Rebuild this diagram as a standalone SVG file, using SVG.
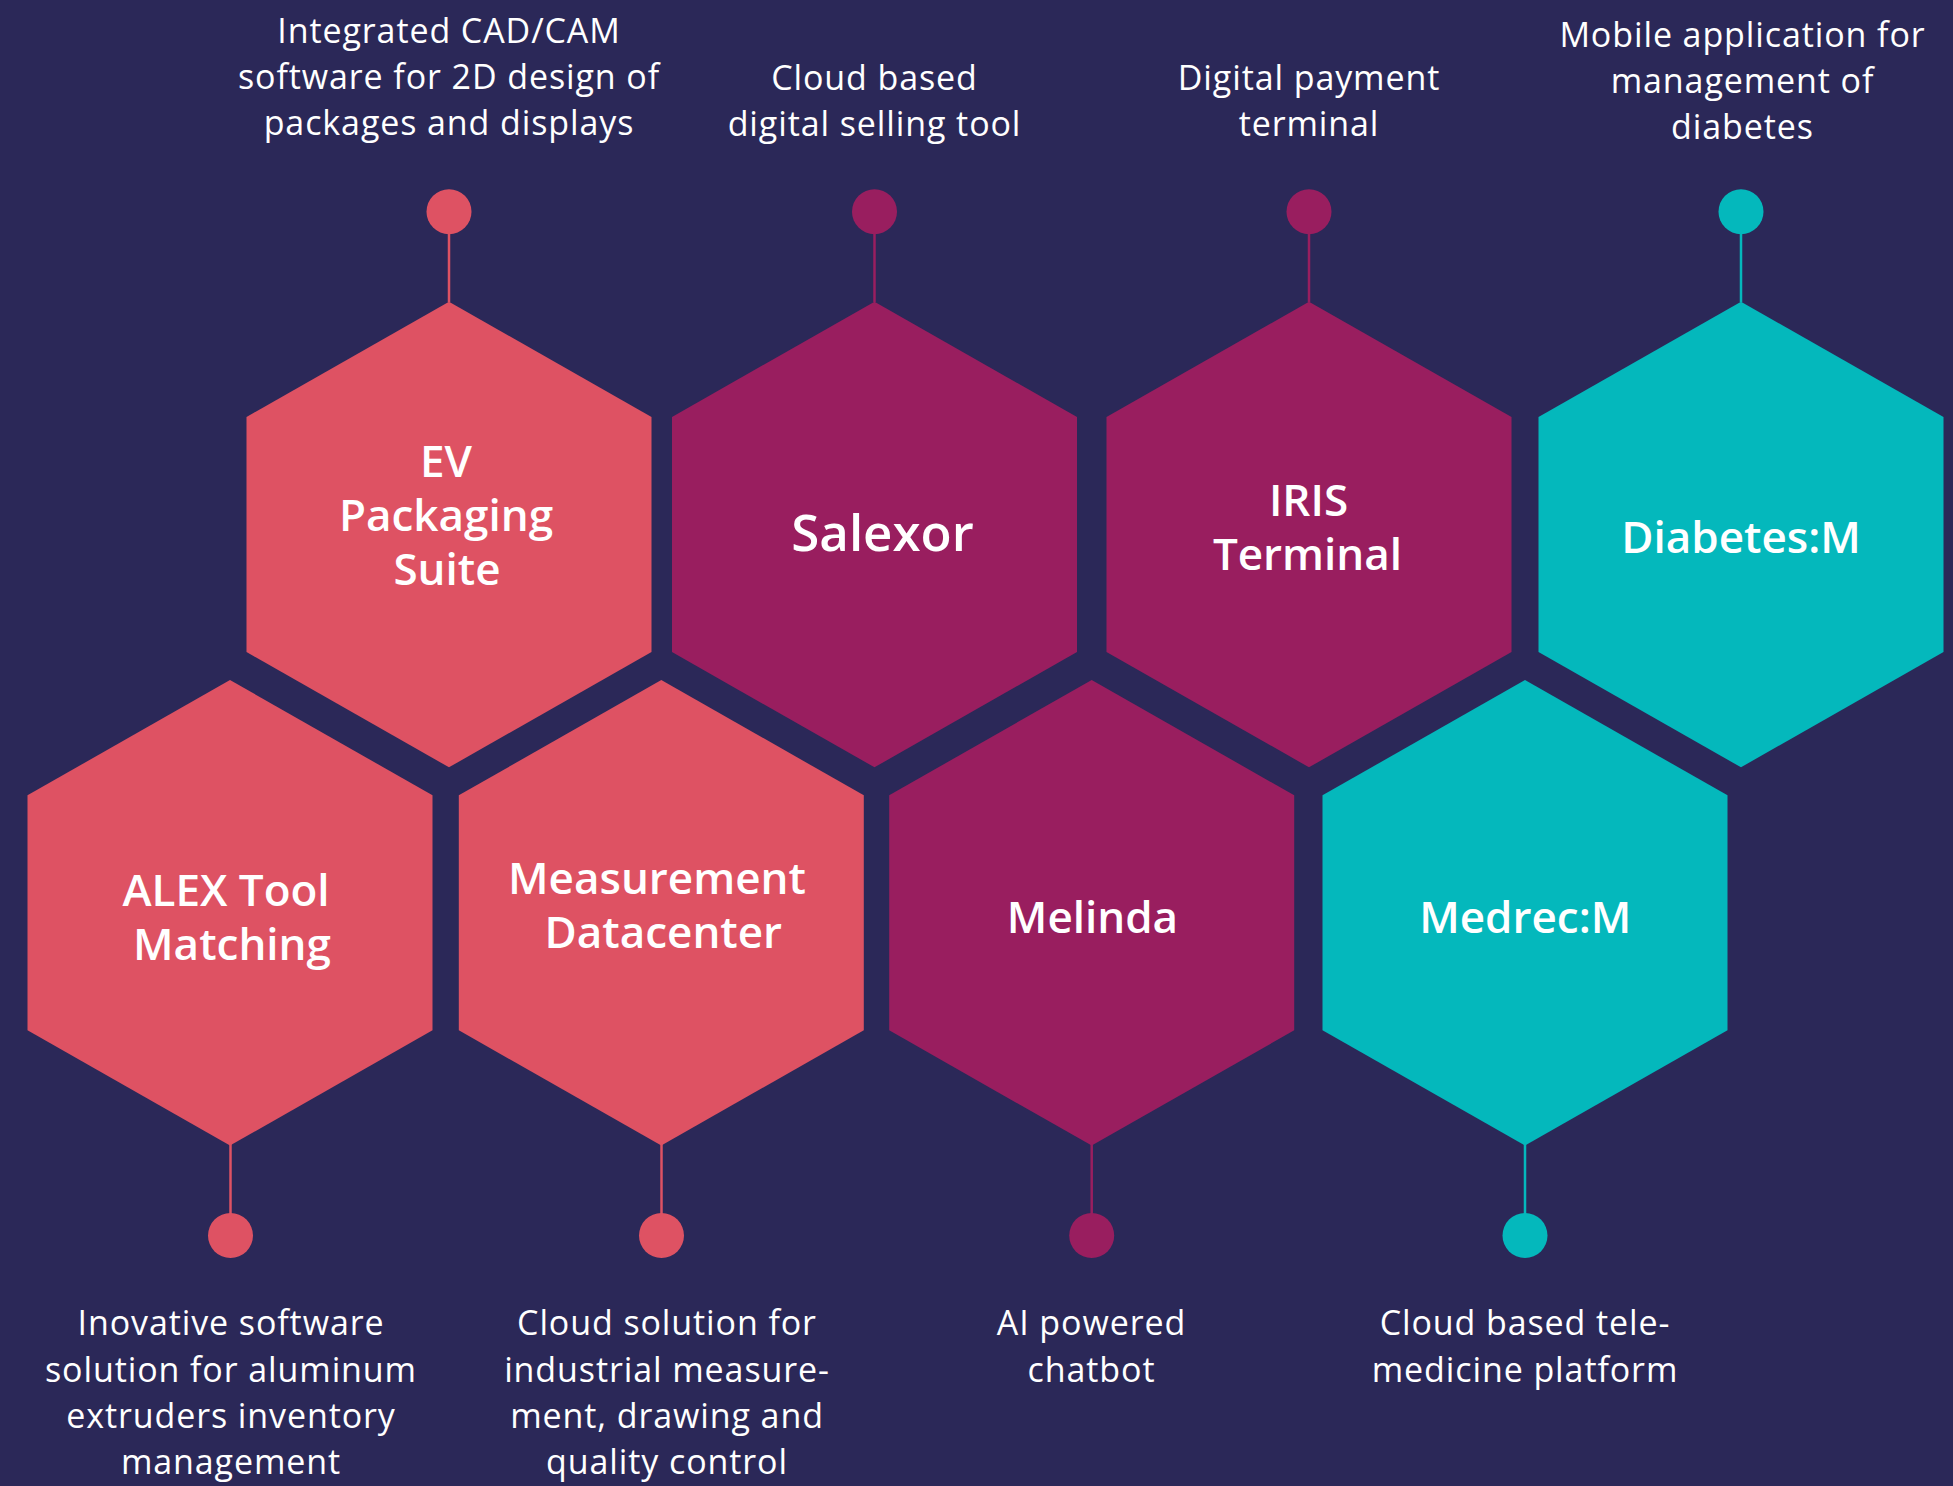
<svg xmlns="http://www.w3.org/2000/svg" width="1953" height="1486" viewBox="0 0 1953 1486">
  <style>
    .coral { fill: #de5263; }
    .mag { fill: #991e5f; }
    .teal { fill: #04b8bc; }
    .lc { stroke: #de5263; }
    .lm { stroke: #991e5f; }
    .lt { stroke: #04b8bc; }
    .conn line { stroke-width: 2.5; }
    .title { font-family: "Open Sans", "Noto Sans", sans-serif; font-weight: 600; font-size: 44px; fill: #ffffff; text-anchor: middle; }
    .big { font-size: 51px; }
    .desc { font-family: "Open Sans", "Noto Sans", sans-serif; font-weight: 400; font-size: 34px; letter-spacing: 0.9px; fill: #ffffff; text-anchor: middle; }
  </style>
  <defs>
    <polygon id="hex" points="0,-232.8 202.5,-117.5 202.5,117.5 0,232.8 -202.5,117.5 -202.5,-117.5"/>
  </defs>
  <rect x="0" y="0" width="1953" height="1486" fill="#2b2858"/>

  <g id="connectors" class="conn">
    <line class="lc" x1="449" y1="230" x2="449" y2="302"/>
    <circle class="coral" cx="449" cy="211.7" r="22.5"/>
    <line class="lm" x1="874.5" y1="230" x2="874.5" y2="302"/>
    <circle class="mag" cx="874.5" cy="211.7" r="22.5"/>
    <line class="lm" x1="1309" y1="230" x2="1309" y2="302"/>
    <circle class="mag" cx="1309" cy="211.7" r="22.5"/>
    <line class="lt" x1="1741" y1="230" x2="1741" y2="302"/>
    <circle class="teal" cx="1741" cy="211.7" r="22.5"/>

    <line class="lc" x1="230.5" y1="1144" x2="230.5" y2="1218"/>
    <circle class="coral" cx="230.5" cy="1235.5" r="22.5"/>
    <line class="lc" x1="661.5" y1="1144" x2="661.5" y2="1218"/>
    <circle class="coral" cx="661.5" cy="1235.5" r="22.5"/>
    <line class="lm" x1="1091.7" y1="1144" x2="1091.7" y2="1218"/>
    <circle class="mag" cx="1091.7" cy="1235.5" r="22.5"/>
    <line class="lt" x1="1525" y1="1144" x2="1525" y2="1218"/>
    <circle class="teal" cx="1525" cy="1235.5" r="22.5"/>
  </g>

  <g id="node-ev">
    <use href="#hex" class="coral" x="449" y="534.5"/>
    <text class="title" x="446" y="476.5">EV</text>
    <text class="title" x="446" y="530.5">Packaging</text>
    <text class="title" x="447" y="584.5">Suite</text>
    <text class="desc" x="449" y="42.7">Integrated CAD/CAM</text>
    <text class="desc" x="449" y="88.7">software for 2D design of</text>
    <text class="desc" x="449" y="135">packages and displays</text>
  </g>

  <g id="node-salexor">
    <use href="#hex" class="mag" x="874.5" y="534.5"/>
    <text class="title big" x="882.5" y="550.7">Salexor</text>
    <text class="desc" x="874.5" y="89.5">Cloud based</text>
    <text class="desc" x="874.5" y="136">digital selling tool</text>
  </g>

  <g id="node-iris">
    <use href="#hex" class="mag" x="1309" y="534.5"/>
    <text class="title" x="1308.5" y="516">IRIS</text>
    <text class="title" x="1307.5" y="570">Terminal</text>
    <text class="desc" x="1309" y="89.5">Digital payment</text>
    <text class="desc" x="1309" y="136">terminal</text>
  </g>

  <g id="node-diabetes">
    <use href="#hex" class="teal" x="1741" y="534.5"/>
    <text class="title" x="1741" y="553.3">Diabetes:M</text>
    <text class="desc" x="1742.5" y="46.7">Mobile application for</text>
    <text class="desc" x="1742.5" y="93">management of</text>
    <text class="desc" x="1742.5" y="139">diabetes</text>
  </g>

  <g id="node-alex">
    <use href="#hex" class="coral" x="230" y="912.8"/>
    <text class="title" x="226" y="906">ALEX Tool</text>
    <text class="title" x="232" y="960">Matching</text>
    <text class="desc" x="231" y="1335">Inovative software</text>
    <text class="desc" x="231" y="1381.5">solution for aluminum</text>
    <text class="desc" x="231" y="1428">extruders inventory</text>
    <text class="desc" x="231" y="1474.3">management</text>
  </g>

  <g id="node-measurement">
    <use href="#hex" class="coral" x="661.3" y="912.8"/>
    <text class="title" x="657" y="894.3">Measurement</text>
    <text class="title" x="663.3" y="948.3">Datacenter</text>
    <text class="desc" x="667" y="1335">Cloud solution for</text>
    <text class="desc" x="667" y="1381.5">industrial measure-</text>
    <text class="desc" x="667" y="1428">ment, drawing and</text>
    <text class="desc" x="667" y="1474.3">quality control</text>
  </g>

  <g id="node-melinda">
    <use href="#hex" class="mag" x="1091.7" y="912.8"/>
    <text class="title" x="1092.5" y="933.3">Melinda</text>
    <text class="desc" x="1091.5" y="1335">AI powered</text>
    <text class="desc" x="1091.5" y="1381.5">chatbot</text>
  </g>

  <g id="node-medrec">
    <use href="#hex" class="teal" x="1525" y="912.8"/>
    <text class="title" x="1525.2" y="933.3">Medrec:M</text>
    <text class="desc" x="1525" y="1335">Cloud based tele-</text>
    <text class="desc" x="1525" y="1381.5">medicine platform</text>
  </g>
</svg>
